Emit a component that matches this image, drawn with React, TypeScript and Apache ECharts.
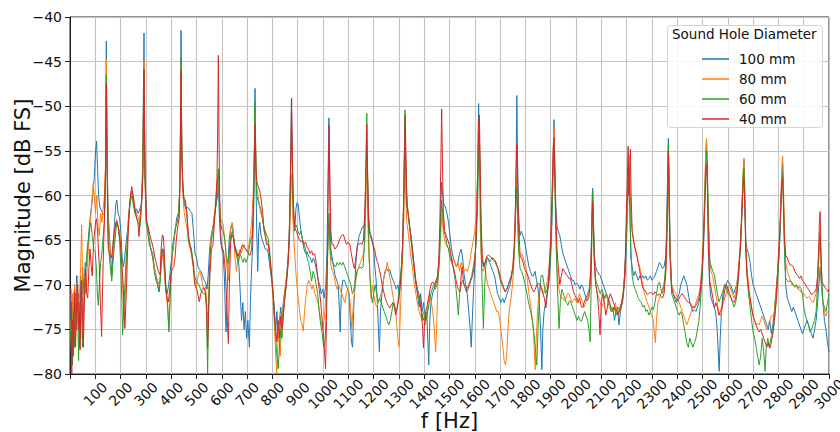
import React, { useEffect, useRef } from "react";
import * as echarts from "echarts";

const seriesNames = ["100 mm", "80 mm", "60 mm", "40 mm"];
const seriesColors = ["#1f77b4", "#ff7f0e", "#2ca02c", "#d62728"];
const legendTitle = "Sound Hole Diameter";
const xTitle = "f [Hz]";
const yTitle = "Magnitude [dB FS]";

const d100: [number, number][] = [[2,-71],[6,-78],[10,-72],[14,-76],[18,-70],[22,-74],[26,-69],[30,-73],[34,-71],[38,-77],[42,-69],[46,-72],[50,-68],[55,-71],[60,-67.5],[66,-68],[72,-65],[78,-63],[84,-61.5],[90,-60],[96,-58],[101,-55],[105,-53.9],[109,-57],[113,-60],[118,-61.3],[124,-61.7],[130,-62],[136,-62.2],[140,-59],[143.6,-42.7],[147,-57],[151,-62],[156,-64.5],[161,-67],[165,-69],[170,-66],[176,-63],[181,-61],[185,-60.5],[190,-62],[196,-62.5],[201,-64],[206,-67],[211,-68],[216,-67],[221,-65.5],[227,-64],[233,-62],[240,-60],[245,-59.5],[251,-60.5],[257,-62],[263,-61.5],[270,-62],[276,-61.5],[282,-61],[287,-57],[292.6,-41.8],[296,-57],[301,-62.5],[307,-63.5],[314,-65],[320,-66],[327,-66.5],[333,-68],[340,-69],[346,-70],[351,-70.8],[356,-69.5],[361,-67],[367,-66],[372,-68],[378,-70.5],[384,-71],[390,-70],[396,-68.5],[402,-67],[408,-66],[415,-64],[422,-62.5],[428,-62],[433,-60],[436,-55],[438.8,-41.5],[442,-55],[446,-59],[452,-61],[458,-61.5],[464,-61.3],[470,-61.5],[476,-61.8],[482,-62],[488,-64],[494,-66.5],[500,-67],[506,-68],[512,-68.3],[518,-68.5],[524,-69],[530,-69.5],[536,-69.8],[542,-70.5],[546,-69],[552,-66],[558,-64.5],[565,-63.5],[572,-62],[578,-61],[583,-60],[586.5,-58.8],[590,-62],[595,-65],[600,-66],[605,-66.5],[610,-69],[614,-73],[617,-75.3],[620,-72],[624,-68],[629,-65],[634,-63.8],[639,-63.3],[644,-64],[650,-65.5],[656,-66],[662,-66.5],[668,-68],[673,-71],[678,-74],[683,-72],[688,-75],[693,-73],[698,-76],[703,-74],[709,-77],[713,-72],[718,-68],[723,-65],[727,-60],[731.3,-48],[735,-58],[738,-64],[742,-68.5],[746,-64],[750,-63],[755,-64.5],[760,-65],[766,-65.5],[772,-66],[778,-66],[784,-66.5],[790,-68],[797,-69.5],[803,-71],[808,-73],[813,-75],[818,-73],[823,-76],[828,-74],[833,-72.5],[838,-74],[843,-72],[850,-70.5],[856,-69],[862,-67],[867,-64],[871,-58],[875,-49.3],[879,-57],[883,-63],[888,-64],[893,-61.5],[897,-60.8],[902,-61],[907,-62.5],[913,-64],[919,-65],[925,-66],[931,-66.5],[937,-66.3],[943,-66.8],[950,-67],[956,-67.5],[962,-67],[968,-67.5],[975,-68.5],[981,-69.5],[987,-70],[993,-71],[999,-70.5],[1005,-71.5],[1011,-70],[1016,-66],[1020,-58],[1023.5,-51.3],[1027,-60],[1031,-66],[1036,-67],[1042,-68],[1048,-69],[1054,-69.5],[1060,-70],[1065,-73],[1068,-75.3],[1072,-71],[1078,-69.5],[1085,-69.5],[1091,-70],[1097,-70.5],[1103,-71],[1108,-74],[1113,-76.5],[1117,-77],[1121,-73],[1126,-70],[1131,-67],[1137,-65.5],[1143,-64.5],[1150,-64],[1156,-63.5],[1162,-63.5],[1167,-62],[1170,-58],[1173,-55],[1176,-58],[1180,-62],[1185,-64],[1190,-64.5],[1195,-65],[1200,-66],[1205,-68],[1210,-69.5],[1215,-72],[1219,-75],[1223,-77.5],[1227,-73],[1233,-71],[1239,-69.5],[1245,-68.5],[1251,-68.2],[1258,-68.5],[1264,-68.3],[1270,-69],[1277,-69.5],[1284,-70],[1290,-70.5],[1296,-70],[1302,-71],[1308,-69],[1314,-66],[1318,-62],[1321,-57],[1324,-52],[1327,-56],[1331,-60],[1336,-62],[1342,-63.5],[1348,-65],[1355,-67],[1361,-68.5],[1367,-70],[1373,-71],[1380,-72.5],[1386,-71],[1392,-73],[1398,-72],[1404,-74],[1410,-73],[1414,-76],[1418,-79],[1422,-74],[1427,-72],[1433,-71],[1439,-70.5],[1445,-70],[1451,-69.5],[1457,-68],[1462,-65],[1466,-61],[1469,-58.5],[1473,-60],[1478,-61],[1484,-61.3],[1490,-62],[1496,-63],[1502,-64.5],[1508,-66],[1515,-67],[1521,-67.5],[1527,-68],[1533,-67.5],[1540,-66.5],[1546,-66],[1552,-67],[1558,-69],[1564,-70],[1570,-71],[1576,-73],[1582,-75],[1586,-77],[1590,-74],[1596,-70],[1602,-67],[1608,-62],[1612,-56],[1615,-49.7],[1619,-55],[1623,-62],[1628,-67],[1634,-68],[1640,-67.5],[1646,-67],[1652,-67],[1658,-67.5],[1665,-68],[1671,-68.5],[1678,-69],[1684,-70],[1690,-71],[1697,-71.5],[1703,-72],[1710,-71.5],[1716,-72],[1722,-71.5],[1728,-71],[1734,-70.5],[1740,-70],[1746,-69],[1752,-68],[1757,-66],[1761,-61],[1764,-55],[1766,-48.8],[1769,-56],[1773,-62],[1778,-64.5],[1784,-64],[1790,-64.5],[1796,-65],[1802,-66],[1808,-67],[1814,-68],[1820,-68.5],[1826,-69],[1832,-69],[1838,-68.5],[1844,-69.5],[1850,-70.5],[1855,-72],[1860,-75],[1865,-79.5],[1869,-75],[1874,-73],[1880,-72],[1886,-71],[1892,-70],[1898,-68],[1903,-65],[1907,-60],[1910,-55],[1913,-51.5],[1916,-56],[1920,-61],[1925,-63.5],[1930,-64],[1936,-64.5],[1942,-65.5],[1948,-66.5],[1954,-67],[1960,-67.5],[1966,-68],[1972,-68.5],[1978,-69],[1984,-69.5],[1990,-69.5],[1996,-70],[2002,-69.8],[2009,-70],[2015,-70.5],[2021,-70],[2028,-70.3],[2034,-71],[2040,-71.5],[2046,-71],[2052,-70.5],[2057,-69],[2061,-65],[2064,-60],[2066,-59.2],[2069,-63],[2073,-67],[2078,-68],[2084,-68.5],[2090,-68.8],[2096,-69],[2102,-69.5],[2108,-70],[2114,-70.5],[2120,-71],[2127,-71.5],[2133,-72],[2140,-73],[2146,-72.5],[2152,-74],[2158,-73],[2164,-72.5],[2170,-74.5],[2176,-73],[2182,-72],[2188,-71],[2194,-69],[2199,-66],[2203,-62],[2207,-59],[2210,-58],[2213,-62],[2217,-67],[2222,-68],[2228,-69],[2234,-68.5],[2240,-69],[2246,-69.5],[2252,-69],[2258,-69.3],[2264,-69],[2270,-69.3],[2276,-69],[2282,-69.5],[2288,-69.3],[2294,-69],[2300,-69.5],[2306,-69.3],[2312,-69],[2318,-68.5],[2324,-68],[2330,-67.5],[2336,-67.8],[2342,-68.2],[2348,-68],[2354,-67],[2358,-64],[2362,-58],[2365,-53.6],[2368,-58],[2372,-66],[2378,-70],[2384,-71],[2390,-71.5],[2396,-72],[2402,-71.5],[2408,-71],[2414,-70],[2420,-69.5],[2426,-69],[2432,-69.5],[2438,-70],[2444,-71],[2450,-72],[2456,-72.5],[2462,-73],[2468,-72.8],[2474,-73],[2480,-72.5],[2486,-72],[2492,-71],[2498,-69.5],[2504,-66],[2509,-61],[2513,-55],[2516,-54],[2519,-58],[2523,-66],[2528,-70],[2534,-71.5],[2540,-72],[2546,-72.5],[2552,-73],[2558,-75],[2563,-78],[2566,-79.7],[2570,-76],[2575,-73],[2581,-71],[2587,-70],[2593,-70],[2599,-69.5],[2605,-69.8],[2611,-70],[2617,-70.5],[2623,-71],[2629,-70.5],[2635,-70],[2641,-69],[2647,-67],[2652,-65],[2656,-62],[2660,-58],[2664,-56],[2667,-60],[2671,-65],[2676,-66],[2682,-66.5],[2688,-67.5],[2694,-69],[2700,-70],[2706,-70.5],[2712,-71],[2718,-71.5],[2724,-72],[2730,-72.5],[2736,-73],[2742,-73.5],[2748,-74],[2754,-74.5],[2760,-75],[2766,-74],[2772,-75.5],[2778,-74.5],[2784,-73],[2790,-71],[2796,-69],[2802,-67],[2807,-64],[2811,-60],[2814,-57.5],[2817,-56.5],[2820,-60],[2824,-66],[2829,-70],[2835,-71.5],[2841,-72],[2847,-72.5],[2853,-73],[2859,-72.5],[2865,-73],[2871,-73.5],[2877,-74],[2883,-74.5],[2889,-75],[2895,-75.5],[2901,-75],[2907,-74.5],[2913,-74],[2919,-74.5],[2925,-75],[2931,-75.5],[2937,-76],[2943,-75],[2949,-74],[2955,-72],[2960,-70],[2965,-68],[2970,-70],[2976,-72],[2982,-74],[2988,-75],[2994,-76.5],[3000,-77.5]];

const d80: [number, number][] = [[2,-74],[6,-78],[10,-71],[14,-75],[18,-70],[22,-76],[26,-72],[30,-69],[34,-74],[38,-71],[42,-68],[46,-63.3],[50,-70],[54,-73],[58,-69],[63,-71],[68,-68],[73,-66],[78,-64],[83,-62],[88,-60],[92,-58.6],[96,-60],[101,-62],[106,-60],[111,-63.5],[116,-64.5],[121,-62],[126,-63],[131,-61.5],[136,-60],[140,-57],[143.6,-44.7],[147,-56],[151,-63.7],[156,-65],[161,-66.5],[166,-67],[171,-66],[176,-65],[181,-63],[185,-62.7],[190,-63.5],[196,-64],[201,-66],[206,-69],[211,-72],[215,-73.8],[219,-71],[224,-66.5],[230,-63],[236,-61],[241,-60],[245,-59.8],[251,-61],[257,-61.5],[263,-62],[270,-62.5],[276,-63],[282,-61],[287,-58],[292.6,-44.8],[296,-58],[301,-63],[307,-64],[314,-65.5],[320,-66],[327,-67],[333,-68],[340,-69],[346,-69.5],[352,-70],[357,-69],[362,-67.5],[367,-66.5],[372,-68],[378,-70.5],[384,-72],[388,-74],[391,-74.9],[395,-72],[400,-69],[405,-66.5],[410,-65],[416,-64],[422,-63],[428,-62.5],[433,-60],[436,-55],[438.8,-45],[442,-56],[446,-60],[452,-62],[458,-63],[464,-64],[470,-65.5],[476,-66],[482,-66.5],[488,-67.5],[494,-69.5],[500,-70.3],[506,-69],[512,-68.5],[518,-69],[524,-70],[530,-70.5],[536,-70.2],[542,-72.5],[546,-75],[550,-70],[556,-65],[562,-64],[568,-63],[574,-61],[580,-59],[586.5,-57.5],[590,-60],[595,-62.5],[600,-63],[605,-63.2],[610,-64.5],[615,-66],[620,-68],[626,-69.5],[631,-66],[636,-63.5],[641,-63],[646,-64],[652,-67],[658,-68.5],[664,-67],[670,-66],[676,-66.5],[682,-66],[688,-65.5],[694,-66],[700,-66.3],[706,-65.8],[712,-64.5],[718,-63],[724,-60],[728,-56],[731.3,-51],[735,-57],[738,-59],[743,-60],[748,-61],[754,-62],[760,-62.5],[766,-63.5],[772,-64.5],[778,-65],[784,-65.5],[790,-67],[796,-69],[802,-71.5],[807,-74],[812,-77],[817,-80],[821,-77],[826,-75],[831,-78],[836,-74],[841,-73],[846,-71.5],[852,-70],[858,-68.5],[864,-67],[869,-64],[873,-60],[876,-57.5],[879,-60],[883,-64],[888,-66.5],[894,-69],[900,-71],[906,-72.5],[912,-74],[918,-74.5],[922,-75.2],[927,-73],[932,-71.5],[938,-70],[944,-69.5],[950,-70],[956,-70.5],[962,-70],[968,-71],[974,-71.5],[980,-72],[986,-73],[992,-74],[998,-75],[1004,-74],[1010,-72],[1015,-69],[1019,-66],[1023.5,-63],[1027,-66],[1032,-68],[1038,-68.5],[1044,-69],[1050,-70],[1056,-70.5],[1062,-70],[1068,-70.5],[1074,-71],[1080,-71.5],[1086,-72],[1092,-71],[1098,-70.5],[1104,-71],[1110,-73],[1114,-75],[1118,-73],[1124,-71],[1130,-69.5],[1136,-68.5],[1142,-68],[1148,-67.5],[1154,-67],[1160,-66.5],[1166,-65],[1170,-60],[1173,-56],[1176,-61],[1180,-66],[1185,-68.5],[1190,-71.5],[1195,-70],[1200,-71],[1206,-72],[1212,-72.5],[1218,-72],[1224,-71.5],[1230,-71],[1236,-70],[1242,-69],[1248,-68.5],[1254,-67.5],[1260,-68.5],[1266,-69.5],[1272,-70.5],[1278,-71.5],[1284,-72.5],[1290,-74],[1296,-76],[1301,-77],[1306,-73],[1311,-69],[1316,-66],[1320,-62],[1324,-56],[1327,-60],[1331,-63],[1336,-64],[1342,-65.5],[1348,-67],[1355,-68.5],[1361,-70],[1367,-71],[1373,-72],[1380,-73],[1386,-73.5],[1392,-74],[1398,-73],[1404,-74.5],[1410,-73.5],[1416,-72],[1422,-71],[1428,-72],[1434,-73],[1440,-75],[1445,-77.5],[1449,-75],[1454,-70],[1459,-67],[1464,-65],[1468,-63],[1471,-62],[1475,-64],[1480,-65],[1486,-65.5],[1492,-65.8],[1498,-66],[1504,-66.5],[1510,-67.5],[1516,-67],[1522,-67.5],[1528,-68],[1534,-67.5],[1540,-68.5],[1546,-67.5],[1552,-68],[1558,-68.5],[1564,-68.2],[1570,-68.5],[1576,-68],[1582,-67],[1588,-66],[1594,-65],[1600,-64],[1606,-62],[1611,-58],[1615,-52],[1618,-57],[1622,-64],[1627,-68],[1633,-68.5],[1639,-68],[1645,-69],[1651,-70],[1657,-70.5],[1663,-71],[1669,-71.5],[1675,-72],[1681,-72.5],[1687,-73],[1693,-73],[1699,-74],[1705,-75.5],[1711,-77],[1716,-78.5],[1721,-79],[1726,-78],[1731,-75],[1736,-73],[1741,-72],[1747,-70.5],[1752,-69],[1757,-66],[1761,-62],[1764,-59],[1766,-58],[1769,-62],[1773,-66],[1778,-67],[1784,-66.5],[1790,-66.8],[1796,-67.5],[1802,-68],[1808,-69.5],[1814,-71],[1820,-72],[1826,-73.5],[1832,-75],[1836,-78],[1839,-79.5],[1843,-76],[1848,-73],[1854,-71],[1860,-70],[1866,-70.5],[1872,-71],[1878,-70.5],[1884,-70],[1890,-69],[1896,-67],[1902,-64],[1906,-60],[1910,-55],[1913,-52.3],[1916,-56],[1920,-63],[1925,-68],[1930,-70],[1936,-71],[1942,-71.5],[1948,-71.5],[1954,-71.8],[1960,-71.5],[1966,-71],[1972,-71],[1978,-71.5],[1984,-72],[1990,-71.7],[1996,-71.5],[2002,-72],[2008,-71.5],[2014,-71],[2020,-71.5],[2026,-72],[2032,-72.5],[2038,-72],[2044,-71.5],[2050,-71],[2056,-70],[2061,-66],[2064,-62],[2066,-61],[2069,-64],[2073,-68],[2078,-70],[2084,-71],[2090,-71.5],[2096,-72],[2102,-72.5],[2108,-72],[2114,-71.5],[2120,-71],[2126,-72],[2132,-72.5],[2138,-73],[2144,-72.5],[2150,-73],[2156,-72],[2162,-73],[2168,-72.5],[2174,-73],[2180,-72],[2186,-71],[2192,-69],[2197,-66],[2201,-62],[2205,-58],[2208,-56],[2210,-55.5],[2213,-58],[2217,-62],[2222,-64],[2228,-65],[2234,-66],[2240,-66.5],[2246,-67.5],[2252,-68],[2258,-69],[2264,-70],[2270,-71],[2276,-71.5],[2282,-72],[2288,-72.5],[2294,-73],[2300,-73.5],[2306,-74],[2310,-75.5],[2314,-76.5],[2318,-74],[2324,-72],[2330,-71.5],[2336,-71],[2342,-70.5],[2348,-70],[2354,-69],[2358,-67],[2362,-62],[2365,-58],[2368,-62],[2372,-67],[2378,-70],[2384,-70.5],[2390,-70.8],[2396,-71],[2402,-71.5],[2408,-72],[2414,-72.5],[2420,-73],[2426,-73.5],[2432,-74],[2438,-74.5],[2444,-74],[2450,-73.5],[2456,-73],[2462,-72.5],[2468,-72.5],[2474,-72],[2480,-71.5],[2486,-71],[2492,-70],[2498,-68],[2504,-64],[2509,-59],[2513,-55],[2516,-53.6],[2519,-57],[2523,-63],[2528,-67],[2534,-68.5],[2540,-69],[2546,-70],[2552,-71],[2558,-72],[2564,-73],[2570,-73.5],[2576,-73],[2582,-72],[2588,-71.5],[2594,-71],[2600,-70.5],[2606,-70],[2612,-70.5],[2618,-71],[2624,-71.5],[2630,-71],[2636,-70],[2642,-68],[2648,-66],[2653,-63],[2657,-60],[2661,-57],[2664,-55.8],[2667,-59],[2671,-65],[2676,-68],[2682,-70],[2688,-71.5],[2694,-72.5],[2700,-73.5],[2706,-74],[2712,-74.5],[2718,-74.3],[2724,-74.5],[2730,-74],[2736,-73.5],[2742,-74],[2748,-74.5],[2754,-75],[2760,-74.5],[2766,-74],[2772,-73.5],[2778,-73.5],[2784,-73],[2790,-71],[2796,-69],[2802,-66],[2807,-63],[2811,-59],[2814,-56.5],[2817,-55.6],[2820,-59],[2824,-64],[2829,-67.5],[2835,-68.5],[2841,-69],[2847,-69.5],[2853,-70],[2859,-70],[2865,-70.3],[2871,-70],[2877,-70.5],[2883,-70.5],[2889,-70.8],[2895,-71],[2901,-71],[2907,-71.3],[2913,-71.5],[2919,-71.3],[2925,-71.5],[2931,-71.8],[2937,-72],[2943,-71.5],[2949,-71],[2955,-70],[2960,-67],[2965,-65],[2970,-70],[2976,-72],[2982,-73],[2988,-73.5],[2994,-73],[3000,-73]];

const d60: [number, number][] = [[2,-76],[6,-72],[10,-79],[14,-73],[18,-77],[22,-71],[26,-75],[30,-72],[34,-78.5],[38,-72],[42,-76],[46,-71.5],[50,-77],[54,-73],[58,-70],[63,-68],[68,-66],[73,-65],[78,-63.5],[83,-63.1],[88,-64.5],[94,-66],[99,-66.2],[104,-68],[108,-71],[112,-72.3],[116,-70],[121,-67.5],[125,-66.7],[130,-65],[136,-63],[140,-58],[143.6,-46.5],[147,-57],[151,-65],[156,-67],[161,-68.5],[165,-69.6],[170,-67.5],[176,-65.5],[181,-64],[185,-63],[190,-63.5],[196,-65],[201,-68],[205,-72],[208,-75.6],[212,-73],[217,-70],[222,-67],[227,-65],[231,-63.5],[237,-61],[244,-60],[250,-61],[257,-62],[263,-62.5],[270,-63],[277,-63.5],[282,-61.5],[287,-58],[292.6,-45.8],[296,-57],[301,-63],[307,-64],[314,-65.5],[320,-66],[327,-67],[333,-68.5],[340,-69.5],[346,-70],[353,-70.8],[358,-69],[363,-66],[369,-66],[374,-68],[379,-70],[384,-71.5],[388,-73],[391,-75.3],[395,-72],[400,-68],[406,-65.5],[412,-64.5],[418,-63.5],[424,-63],[430,-62],[434,-59],[436.5,-54],[438.8,-44.5],[441.5,-54],[445,-58],[450,-60.5],[456,-61],[462,-62],[468,-65],[474,-65.5],[480,-66],[486,-67.5],[492,-69],[498,-69.5],[504,-69.8],[510,-70],[516,-70.5],[522,-70.8],[528,-71],[534,-71],[539,-72],[544,-80],[548,-72],[553,-67],[559,-65],[565,-64],[571,-62.5],[577,-61],[582,-59],[586.5,-57],[590,-60],[595,-63],[600,-63.8],[606,-64],[612,-65],[618,-66.9],[624,-67.6],[630,-66],[636,-64.5],[642,-64],[648,-65],[654,-66],[660,-67],[666,-67.5],[672,-66.5],[678,-67],[684,-67.5],[690,-67],[696,-67.5],[702,-67],[708,-66],[714,-65],[720,-64.5],[725,-62],[728,-57],[731.3,-49.5],[734,-55],[738,-60],[743,-60.5],[748,-61],[754,-61.5],[760,-62.5],[766,-63.5],[772,-64],[778,-64.5],[784,-64.8],[790,-66.5],[797,-69],[803,-71],[808,-73.5],[813,-76],[818,-78],[823,-79.4],[828,-77],[833,-75],[838,-76],[843,-73.5],[849,-71.5],[855,-70],[861,-68],[866,-65],[870,-61],[873,-56],[876,-53],[879,-57],[883,-62],[889,-63.5],[895,-63.3],[901,-64],[907,-64.4],[913,-64],[919,-65],[925,-65.5],[931,-66],[937,-67],[943,-67.5],[949,-68.5],[955,-69.6],[961,-68.5],[967,-69],[973,-70],[979,-71],[985,-73],[991,-74.5],[997,-75.5],[1003,-77],[1009,-76],[1014,-72],[1018,-67],[1021,-64],[1024,-62],[1027,-65],[1032,-67],[1038,-67.5],[1044,-67.8],[1050,-68],[1056,-67.5],[1062,-67.8],[1068,-67.5],[1074,-67.8],[1080,-67.5],[1086,-68],[1092,-68.5],[1098,-69],[1104,-69.5],[1110,-70],[1116,-71],[1122,-70.5],[1128,-69.5],[1134,-68.5],[1140,-68.2],[1146,-68],[1152,-68.2],[1158,-68],[1163,-66],[1167,-61],[1170,-56],[1173,-50.8],[1176,-57],[1180,-64],[1185,-69],[1190,-71],[1195,-72],[1200,-71],[1206,-70],[1212,-71],[1218,-72],[1224,-71.5],[1230,-72],[1236,-72.5],[1242,-73],[1248,-73.5],[1254,-74],[1260,-74.5],[1266,-74],[1272,-73],[1278,-72],[1284,-72.5],[1290,-73],[1296,-72],[1302,-70],[1308,-68.5],[1313,-67],[1317,-63],[1321,-57],[1324,-50.4],[1327,-56],[1331,-61],[1336,-62],[1342,-63.5],[1348,-64.5],[1354,-66],[1360,-68],[1366,-69.5],[1372,-70.5],[1378,-71.5],[1384,-72],[1390,-73],[1396,-74],[1402,-73.5],[1408,-74],[1414,-73],[1420,-72],[1426,-71],[1432,-70.5],[1438,-70],[1444,-70.5],[1450,-70],[1456,-69],[1461,-67],[1465,-63],[1469,-60.5],[1473,-62],[1478,-64],[1484,-64.5],[1490,-65.5],[1496,-66],[1502,-67],[1508,-67.5],[1514,-68],[1520,-69],[1526,-70.5],[1531,-72],[1535,-73.4],[1540,-71],[1546,-70],[1552,-69.5],[1558,-70],[1564,-70.2],[1570,-70.4],[1576,-70],[1582,-69.5],[1588,-69],[1594,-68],[1600,-67],[1606,-65],[1611,-61],[1615,-56],[1618,-53],[1621,-58],[1625,-66],[1630,-71],[1634,-74.9],[1638,-71],[1643,-68],[1649,-67],[1655,-67.2],[1661,-67.4],[1667,-67],[1673,-67.3],[1679,-67.4],[1685,-67.8],[1691,-68.2],[1697,-69],[1703,-69.7],[1709,-70.2],[1715,-70.5],[1721,-70.8],[1727,-70.5],[1733,-70],[1739,-69.5],[1745,-69],[1751,-68],[1756,-66],[1760,-63],[1763,-61],[1766,-59.2],[1769,-62],[1773,-66],[1779,-68.2],[1785,-68.5],[1791,-69],[1797,-69.7],[1803,-70.5],[1809,-71.5],[1815,-72.3],[1821,-73],[1827,-74],[1833,-75.3],[1839,-77],[1845,-79],[1850,-75],[1856,-71],[1862,-69],[1868,-68.9],[1874,-70],[1880,-71],[1886,-70.5],[1892,-69.5],[1898,-67],[1903,-64],[1907,-60],[1910,-57],[1913,-54.7],[1916,-58],[1920,-64],[1925,-69],[1929,-72],[1933,-74.9],[1938,-72],[1944,-70.5],[1950,-71],[1956,-71.5],[1962,-72],[1968,-72.3],[1974,-71.8],[1980,-72],[1986,-72.5],[1992,-73],[1998,-73.5],[2004,-74],[2010,-73.5],[2016,-74],[2022,-74.1],[2028,-73.5],[2034,-73],[2040,-73.5],[2046,-74],[2051,-75],[2056,-76.4],[2060,-70],[2063,-64],[2066,-59.5],[2069,-63],[2073,-67],[2078,-69.5],[2084,-70],[2090,-70.5],[2096,-71],[2102,-70.5],[2108,-71],[2114,-71.5],[2120,-71],[2126,-71.5],[2132,-72],[2138,-72.5],[2144,-73],[2150,-72.5],[2156,-73],[2162,-73.4],[2168,-73],[2174,-72.5],[2180,-72],[2186,-71],[2192,-69],[2197,-66],[2201,-62],[2205,-59],[2210,-57],[2213,-61],[2217,-66],[2222,-69],[2228,-70],[2234,-70.5],[2240,-71],[2246,-71.5],[2252,-71.8],[2258,-72],[2264,-72.5],[2270,-72.3],[2276,-73],[2282,-72.8],[2288,-73.4],[2294,-73],[2300,-72.5],[2306,-72.8],[2312,-72],[2318,-71],[2324,-70],[2330,-69.7],[2336,-70.5],[2342,-71],[2348,-70],[2354,-68],[2358,-65],[2362,-59],[2365,-54.2],[2368,-59],[2372,-66],[2378,-71],[2384,-71.5],[2390,-72],[2396,-72.5],[2402,-73],[2408,-73.4],[2414,-73],[2420,-73.5],[2426,-74.5],[2432,-75.5],[2438,-76.5],[2444,-77],[2450,-76],[2456,-76.5],[2462,-77],[2468,-76.5],[2474,-76],[2480,-75],[2486,-74],[2492,-72],[2498,-69],[2504,-65],[2509,-60],[2513,-57],[2517,-55],[2520,-58],[2524,-63],[2529,-67.4],[2535,-68],[2541,-68.5],[2547,-68.9],[2553,-70],[2559,-71],[2565,-71.9],[2571,-71.5],[2577,-71],[2583,-70.5],[2589,-70],[2595,-70.5],[2601,-71],[2607,-71.2],[2613,-71.5],[2619,-72],[2625,-72.5],[2631,-72],[2637,-71],[2643,-69],[2649,-66],[2654,-63],[2658,-60],[2661,-58],[2664,-57],[2667,-60],[2671,-66],[2676,-69],[2682,-71],[2688,-72.5],[2694,-74],[2700,-75.3],[2706,-76],[2712,-77],[2718,-78],[2724,-79],[2730,-78],[2736,-76],[2742,-77.5],[2747,-79.7],[2752,-77],[2758,-76],[2764,-77],[2770,-76],[2776,-75.5],[2782,-74.5],[2788,-73],[2794,-71],[2800,-68],[2805,-65],[2809,-62],[2813,-59],[2817,-57.5],[2820,-61],[2824,-66],[2829,-69.3],[2835,-69.5],[2841,-69.7],[2847,-69.5],[2853,-69.7],[2859,-70],[2865,-70.2],[2871,-70],[2877,-70.4],[2883,-70.2],[2889,-70.4],[2895,-71],[2901,-72.6],[2907,-73.5],[2913,-74],[2919,-74.5],[2925,-75.3],[2931,-75],[2937,-74.5],[2943,-74],[2949,-73],[2955,-70],[2960,-66],[2965,-64],[2970,-68],[2976,-72],[2982,-72.5],[2988,-73],[2994,-72],[3000,-71]];

const d40: [number, number][] = [[1,-70.7],[4,-70.5],[7,-80],[10,-74],[14,-78],[17,-70.8],[20,-76],[22,-77],[26,-72],[30,-70],[34,-75],[38,-73],[40,-77.3],[43,-71],[46,-69.5],[50,-74],[53,-77],[57,-72],[62,-68.2],[66,-71],[70,-71.5],[75,-68],[79,-66],[84,-68],[88,-69],[92,-66],[96,-64.5],[101,-63],[105,-62.6],[109,-64],[112,-65.9],[116,-68],[120,-72],[125,-75.8],[129,-70],[133,-65.5],[138,-60.5],[141,-56],[143.6,-47.5],[146,-56],[151,-65.9],[156,-66.5],[161,-66.8],[165,-67],[171,-65],[178,-63.5],[185,-62.9],[191,-63.5],[198,-65],[204,-67],[211,-70.5],[214,-73],[217,-74.9],[221,-72],[224,-69.6],[229,-65],[233,-62],[239,-60],[244,-59],[250,-60],[257,-61.5],[263,-62.5],[268,-63],[273,-64.6],[278,-62],[283,-61],[288,-58],[292.6,-45.9],[296,-57],[303,-62.9],[309,-63.5],[316,-64.5],[323,-65.2],[330,-66],[336,-67],[343,-67.8],[349,-68.5],[356,-68.9],[360,-66],[365,-64.4],[369,-64.6],[374,-67],[378,-70.4],[383,-71.5],[389,-71.9],[394,-70.5],[399,-69],[404,-68.2],[410,-68],[415,-67],[420,-65],[426,-63.5],[432,-62.5],[435,-58],[438.8,-46],[442,-55],[446,-59],[450,-60.3],[456,-60.5],[462,-62],[468,-64.4],[474,-65.5],[481,-66.7],[487,-68],[493,-70],[500,-70.4],[505,-71],[511,-71.9],[517,-71],[523,-70.5],[529,-70.4],[535,-70.8],[540,-73],[544,-77.1],[548,-73],[553,-69],[559,-66],[565,-65.5],[571,-63],[577,-60.5],[581,-58],[584,-52],[586.5,-44.3],[589,-54],[593,-63],[598,-65.5],[603,-65.9],[608,-66.5],[613,-68],[618,-71],[622,-74],[626,-76.6],[630,-70],[635,-65.2],[640,-64.4],[646,-64.8],[652,-66],[658,-66.5],[664,-66.8],[670,-66.5],[676,-66],[682,-65.5],[688,-65.8],[694,-66],[700,-66.2],[706,-66.5],[712,-66.7],[718,-66],[723,-63],[727,-58],[731.3,-52],[735,-57],[739,-58.5],[744,-59],[750,-59.5],[756,-60.5],[762,-62],[767,-64],[771,-64.4],[777,-65.5],[784,-65.5],[790,-67],[797,-69],[803,-71],[808,-73.4],[813,-75],[818,-76.4],[823,-74],[828,-76],[833,-73.5],[838,-75],[843,-73.4],[849,-71.5],[855,-70],[861,-68],[866,-65],[870,-60],[873,-55],[876,-49.1],[879,-55],[883,-61],[889,-63.7],[895,-64],[901,-64.5],[907,-65],[913,-65.2],[919,-65],[925,-65.5],[931,-65.2],[937,-65.8],[943,-66],[949,-66.5],[955,-66.2],[961,-66.7],[967,-66.5],[973,-67.5],[979,-69],[985,-70.5],[991,-72],[997,-74],[1003,-76],[1007,-78],[1010,-79.4],[1014,-74],[1018,-66],[1021,-58],[1024,-52.1],[1027,-58],[1031,-64],[1036,-65.5],[1041,-65.5],[1047,-66],[1053,-65.8],[1059,-65.5],[1065,-65],[1071,-64.6],[1077,-64.4],[1081,-64.4],[1087,-65],[1093,-65.5],[1100,-65.2],[1106,-65.5],[1112,-66.5],[1118,-67.5],[1124,-68.2],[1130,-67],[1136,-65.5],[1142,-65.5],[1148,-65.3],[1154,-65.5],[1160,-65],[1165,-62],[1169,-58],[1173,-52],[1176,-57],[1180,-63],[1186,-64.5],[1192,-65],[1198,-65.5],[1204,-66],[1210,-67],[1216,-67.5],[1222,-68.2],[1228,-69],[1234,-70],[1240,-70.8],[1246,-71.5],[1252,-72],[1258,-72.3],[1264,-72.6],[1270,-72.3],[1276,-72],[1282,-72.5],[1288,-73.4],[1294,-72.5],[1300,-71.5],[1306,-70],[1311,-68],[1315,-65],[1319,-60],[1322,-55],[1325,-51],[1328,-56],[1332,-61],[1337,-62],[1343,-63.5],[1349,-65],[1355,-66.5],[1361,-68],[1367,-69.5],[1373,-70.5],[1379,-71],[1385,-72],[1390,-73.5],[1394,-75],[1397,-77.1],[1401,-74.5],[1406,-73],[1411,-72.5],[1417,-71.5],[1423,-70.5],[1429,-69.8],[1435,-69.7],[1441,-70],[1447,-69.5],[1453,-69],[1458,-67],[1462,-63],[1466,-56],[1469,-50.3],[1472,-56],[1476,-62],[1481,-64],[1487,-64.5],[1493,-65],[1499,-65.5],[1505,-66.5],[1511,-67.5],[1517,-68.2],[1523,-69],[1529,-70],[1535,-70.5],[1541,-70.8],[1546,-69],[1550,-68],[1555,-69.7],[1561,-70.3],[1567,-70.8],[1573,-70.5],[1579,-70],[1585,-69.5],[1591,-69],[1597,-68],[1603,-66],[1608,-62],[1612,-57],[1615,-52],[1618,-51],[1621,-56],[1625,-63],[1630,-67],[1636,-68],[1642,-67.5],[1648,-66.8],[1654,-66.7],[1660,-66.8],[1666,-67],[1672,-67],[1678,-67.2],[1684,-67.5],[1690,-68],[1696,-68.5],[1702,-69.3],[1708,-69.8],[1714,-70.3],[1720,-70.8],[1726,-70.5],[1732,-70],[1738,-69.5],[1744,-69],[1750,-68],[1755,-66],[1759,-63],[1763,-58],[1766,-54.3],[1769,-58],[1773,-63],[1779,-66.7],[1785,-67],[1791,-67.5],[1797,-68.2],[1803,-68.5],[1809,-68.9],[1815,-69.5],[1821,-70],[1827,-70.5],[1833,-70.8],[1839,-70.5],[1845,-70],[1851,-69.8],[1857,-70],[1863,-70.4],[1869,-71],[1875,-71.5],[1881,-72.6],[1887,-71],[1893,-69],[1898,-66],[1903,-62],[1907,-58],[1910,-55],[1913,-53.5],[1916,-57],[1920,-62],[1925,-66],[1930,-68],[1936,-70],[1942,-69],[1948,-68.2],[1954,-68.5],[1960,-68.8],[1966,-69],[1972,-69.3],[1978,-69.3],[1984,-70],[1990,-70.8],[1996,-71.2],[2002,-71.5],[2008,-72],[2014,-71.5],[2020,-72.3],[2026,-72.6],[2032,-72],[2038,-71.5],[2044,-71.8],[2050,-71.5],[2056,-70],[2061,-66],[2064,-62],[2066,-60.7],[2069,-64],[2073,-68],[2078,-70],[2084,-71],[2090,-73],[2095,-75.6],[2100,-72],[2106,-71],[2112,-72],[2118,-73.4],[2124,-72.5],[2130,-71.5],[2136,-71],[2142,-71.5],[2148,-72],[2154,-72.5],[2160,-73],[2166,-73.4],[2172,-73],[2178,-72.5],[2184,-72],[2190,-70],[2195,-67],[2199,-62],[2203,-58],[2206,-54.5],[2209,-60],[2212,-58],[2215,-54.8],[2218,-60],[2222,-64],[2228,-65.2],[2234,-66],[2240,-66.7],[2246,-67.5],[2252,-68.5],[2258,-69.5],[2264,-70.4],[2270,-70.5],[2276,-70.8],[2282,-71.1],[2288,-71],[2294,-70.8],[2300,-71],[2306,-71.1],[2312,-70.8],[2318,-71],[2324,-71.2],[2330,-71],[2336,-71.3],[2342,-71.5],[2348,-71],[2354,-69],[2358,-66],[2362,-60],[2365,-55],[2368,-60],[2372,-67],[2378,-70.5],[2384,-71],[2390,-71.3],[2396,-71.5],[2402,-71.8],[2408,-71.5],[2414,-71.2],[2420,-71],[2426,-71.3],[2432,-71.5],[2438,-71.8],[2444,-72],[2450,-72],[2456,-72.3],[2462,-72.5],[2468,-72.6],[2474,-72.3],[2480,-72],[2486,-71.5],[2492,-70.5],[2498,-68.5],[2504,-65],[2509,-61],[2513,-58],[2517,-56.5],[2520,-60],[2524,-66],[2529,-69.7],[2535,-70.5],[2541,-71.5],[2547,-72.6],[2553,-72],[2559,-72.6],[2565,-73.4],[2571,-73],[2577,-72.5],[2583,-71.5],[2589,-70.5],[2595,-70],[2601,-70.5],[2607,-71],[2613,-71.5],[2619,-71.8],[2625,-72],[2631,-71.5],[2637,-70.5],[2643,-68.5],[2649,-66],[2654,-63],[2658,-60.5],[2661,-59],[2664,-58],[2667,-61],[2671,-66],[2676,-69],[2682,-70.5],[2688,-71.5],[2694,-72.6],[2700,-73.5],[2706,-74],[2712,-74.5],[2718,-75],[2724,-75.3],[2730,-75],[2736,-75.5],[2742,-76],[2748,-76.5],[2754,-77],[2760,-76.5],[2766,-77.1],[2772,-76.5],[2778,-75.5],[2784,-74],[2790,-72],[2796,-69],[2802,-66],[2807,-63],[2811,-60],[2814,-58.5],[2817,-58],[2820,-61],[2824,-65],[2829,-66.7],[2835,-67],[2841,-67.5],[2847,-67.8],[2853,-67.8],[2859,-68],[2865,-68.5],[2871,-68.8],[2877,-69],[2883,-69.3],[2889,-69],[2895,-69.5],[2901,-69.7],[2907,-70],[2913,-70.3],[2919,-70.5],[2925,-70.8],[2931,-71.1],[2937,-71],[2943,-70.8],[2949,-70.5],[2955,-69],[2959,-66],[2962,-63],[2965,-61.8],[2968,-66],[2972,-69.7],[2978,-70],[2984,-70.3],[2990,-70.5],[2996,-70.8],[3000,-70.5]];

const allData = [d100, d80, d60, d40];

const FONT = "DejaVu Sans";

export default function App() {
  const ref = useRef<HTMLDivElement>(null);
  useEffect(() => {
    if (!ref.current) return;
    const chart = echarts.init(ref.current, undefined, { renderer: "svg" });
    chart.setOption({
      animation: false,
      backgroundColor: "#ffffff",
      textStyle: { fontFamily: FONT },
      grid: {
        left: 70, right: 11, top: 17, bottom: 58,
        containLabel: false, outerBoundsMode: "none",
        show: true, borderColor: "#222", borderWidth: 1, backgroundColor: "transparent",
      },
      xAxis: {
        type: "value", min: 0, max: 3000, interval: 100,
        name: xTitle, nameLocation: "middle", nameGap: 36, nameMoveOverlap: false,
        nameTextStyle: { fontSize: 21, color: "#111", fontFamily: FONT },
        axisLine: { show: true, lineStyle: { color: "#222", width: 1 } },
        axisTick: { show: true, length: 5, lineStyle: { color: "#222" } },
        axisLabel: {
          rotate: 45, fontSize: 14, color: "#111", fontFamily: FONT,
          align: "center", verticalAlign: "middle", margin: 20,
          formatter: (v: number) => (v === 0 ? "" : String(v)),
        },
        splitLine: { show: true, lineStyle: { color: "#c4c4c4", width: 1.1 } },
      },
      yAxis: {
        type: "value", min: -80, max: -40, interval: 5,
        name: yTitle, nameLocation: "middle", nameGap: 37, nameMoveOverlap: false,
        nameTextStyle: { fontSize: 21, color: "#111", fontFamily: FONT },
        axisLine: { show: true, lineStyle: { color: "#222", width: 1 } },
        axisTick: { show: true, length: 5, lineStyle: { color: "#222" } },
        axisLabel: {
          fontSize: 14, color: "#111", fontFamily: FONT, margin: 8,
          formatter: (v: number) => String(v).replace("-", "\u2212"),
        },
        splitLine: { show: true, lineStyle: { color: "#c4c4c4", width: 1.1 } },
      },
      legend: {
        data: seriesNames,
        orient: "vertical",
        left: 697, top: 47, z: 60,
        icon: "rect", itemWidth: 27, itemHeight: 1.5, itemGap: 6,
        textStyle: { fontSize: 13.5, color: "#111", fontFamily: FONT, padding: [0, 0, 0, 5] },
        selectedMode: false,
      },
      graphic: [
        {
          type: "rect", left: 667, top: 25, z: 50,
          shape: { width: 155, height: 102, r: 3 },
          style: { fill: "rgba(255,255,255,0.85)", stroke: "#d4d4d4", lineWidth: 1 },
        },
        {
          type: "text", left: 672, top: 27, z: 51,
          style: { text: legendTitle, fontSize: 13.5, fill: "#111", fontFamily: FONT },
        },
      ],
      series: allData.map((d, i) => ({
        name: seriesNames[i],
        type: "line",
        data: d,
        showSymbol: false,
        symbol: "none",
        color: seriesColors[i],
        lineStyle: { width: 1, color: seriesColors[i] },
        emphasis: { disabled: true },
        z: 2 + i,
      })),
    });
    return () => chart.dispose();
  }, []);
  return <div ref={ref} style={{ position: "fixed", left: 0, top: 0, width: 840, height: 432 }} />;
}
